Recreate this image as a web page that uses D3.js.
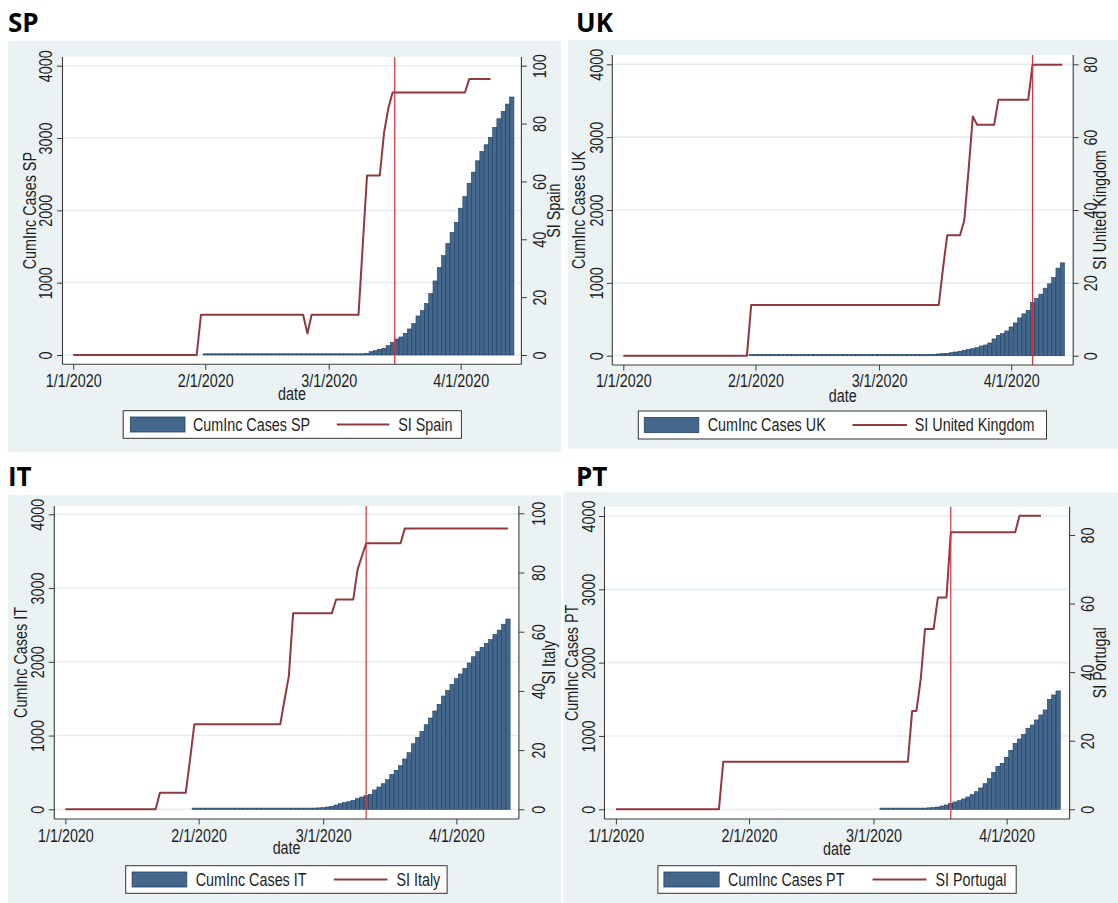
<!DOCTYPE html>
<html><head><meta charset="utf-8">
<script src="https://cdn.jsdelivr.net/npm/d3@7"></script>
<style>
html,body{margin:0;padding:0;background:#fff;}
svg{display:block;}
.lbl{font-family:"Liberation Sans",Arial,sans-serif;font-size:17.5px;fill:#1e1e1e;}
.ptitle{font-family:"Open Sans",sans-serif;font-weight:700;font-size:26px;fill:#000;}
</style></head><body>
<svg id="chart" width="1118" height="903"></svg>
<script>
// ---------------- data ----------------
const xTickDates = ["2020-01-01","2020-02-01","2020-03-01","2020-04-01"];
const leftTicks = [0,1000,2000,3000,4000];
const rightTicks100 = [0,20,40,60,80,100];
const rightTicks80 = [0,20,40,60,80];

// Cumulative incidence (cases), one bar per day from the start date
const spCasesStart = "2020-02-01";
const spCases = [0,0,0,0,0,0,0,0,0,0,0,0,0,0,0,0,0,0,0,0,0,0,0,0,0,0,0,0,0,
  1,1,2,3,4,5,6,7,
  9,23,46,60,78,92,129,175,221,249,300,360,434,540,614,711,849,1024,1209,1375,1541,1693,1836,2030,
  2191,2376,2528,2685,2814,2907,3010,3146,3266,3368,3470,3567];
const ukCasesStart = "2020-01-31";
const ukCases = [0,0,0,0,0,0,0,0,0,0,0,0,0,0,0,0,0,0,0,0,0,0,0,0,0,0,0,0,0,0,0,
  1,1,1,2,2,3,4,5,7,9,11,13,
  20,24,28,33,41,51,60,74,83,96,110,133,147,175,230,280,303,340,395,450,519,574,624,729,
  784,845,927,986,1073,1202,1275];
const itCasesStart = "2020-01-31";
const itCases = [0,0,0,0,0,0,0,0,0,0,0,0,0,0,0,0,0,0,0,0,0,0,
  3,4,5,7,9,11,
  15,19,22,31,40,58,76,90,103,122,144,167,185,203,262,302,347,401,475,529,591,682,768,889,
  976,1057,1147,1238,1333,1424,1536,1613,1695,1771,1835,1912,1984,2069,2137,2197,2250,2300,
  2370,2430,2510,2580];
const ptCasesStart = "2020-03-03";
const ptCases = [0,0,0,0,1,1,2,2,3,4,7,
  20,24,31,45,59,82,100,117,141,168,200,240,291,349,418,505,587,628,709,805,900,959,1023,1105,
  1150,1219,1287,1355,1500,1559,1614];

// Stringency index (vertices of the daily line)
const spSI = [["2020-01-01",0],["2020-01-30",0],["2020-01-31",13.89],["2020-02-24",13.89],["2020-02-25",7.41],
  ["2020-02-26",13.89],["2020-03-08",13.89],["2020-03-09",38],["2020-03-10",62.04],["2020-03-13",62.04],
  ["2020-03-14",76.85],["2020-03-15",85.19],["2020-03-16",90.74],["2020-04-02",90.74],["2020-04-03",95.37],["2020-04-08",95.37]];
const ukSI = [["2020-01-01",0],["2020-01-30",0],["2020-01-31",13.89],["2020-03-15",13.89],["2020-03-16",24],
  ["2020-03-17",33.07],["2020-03-20",33.07],["2020-03-21",37.2],["2020-03-22",51],["2020-03-23",65.7],
  ["2020-03-24",63.4],["2020-03-28",63.4],["2020-03-29",70.3],["2020-04-05",70.3],["2020-04-06",79.9],["2020-04-13",79.9]];
const itSI = [["2020-01-01",0],["2020-01-22",0],["2020-01-23",5.56],["2020-01-29",5.56],["2020-01-30",16.7],
  ["2020-01-31",28.7],["2020-02-20",28.7],["2020-02-21",37],["2020-02-22",45],["2020-02-23",66.2],
  ["2020-03-03",66.2],["2020-03-04",70.9],["2020-03-08",70.9],["2020-03-09",81],["2020-03-10",85.5],
  ["2020-03-11",89.9],["2020-03-19",89.9],["2020-03-20",94.9],["2020-04-13",94.9]];
const ptSI = [["2020-01-01",0],["2020-01-25",0],["2020-01-26",13.89],["2020-03-09",13.89],["2020-03-10",28.7],
  ["2020-03-11",28.7],["2020-03-12",38],["2020-03-13",52.6],["2020-03-15",52.6],["2020-03-16",61.8],
  ["2020-03-18",61.8],["2020-03-19",80.8],["2020-04-03",80.8],["2020-04-04",85.6],["2020-04-09",85.6]];

// Reference dates (vertical lines)
const spEventDate = "2020-03-16T12:00:00Z";
const ukEventDate = "2020-04-06T00:00:00Z";
const itEventDate = "2020-03-11T00:00:00Z";
const ptEventDate = "2020-03-19T00:00:00Z";

const panelNames = ["SP","UK","IT","PT"];
const caseLabels = ["CumInc Cases SP","CumInc Cases UK","CumInc Cases IT","CumInc Cases PT"];
const siLabels = ["SI Spain","SI United Kingdom","SI Italy","SI Portugal"];

// ---------------- layout ----------------
const NX = 0.82; // narrow glyph width factor
const layouts = [
 {bg:[8,41,561,452], title:[8,32], plot:{l:62.5,r:521.4,t:57,b:364.3}, y0:355, yLTop:65.7, yRTop:65.7,
  xA:73.2, xB:460.7, lLab:51.8, lTit:35.7, rLab:546.4, rTit:560.3, xLab:386.7, dateY:400,
  leg:{x0:123.2,x1:461.4,y0:410.7,y1:438.3,sw0:130.4,sw1:185,t1:192.9,l0:336.8,l1:389.3,t2:398.2}},
 {bg:[568,40,1118,449], title:[576,32], plot:{l:612.3,r:1073.2,t:55,b:365}, y0:355.7, yLTop:64.3, yRTop:64.3,
  xA:623.3, xB:1011.2, lLab:602.7, lTit:585, rLab:1097.4, rTit:1106.3, xLab:387.3, dateY:401.5,
  leg:{x0:638.3,x1:1046.5,y0:411,y1:439,sw0:644.3,sw1:698.8,t1:707.7,l0:852.5,l1:907,t2:914.8}},
 {bg:[8,495,561,903], title:[8,486], plot:{l:54.3,r:518.9,t:506,b:819}, y0:809.3, yLTop:514.3, yRTop:513.3,
  xA:65.4, xB:456.4, lLab:44.3, lTit:26.8, rLab:544.6, rTit:555.4, xLab:841.7, dateY:854,
  leg:{x0:125.7,x1:447.1,y0:865.7,y1:893.3,sw0:132.1,sw1:186.8,t1:195.7,l0:333.9,l1:387.5,t2:396.4}},
 {bg:[563.5,492.3,1118,903], title:[576,486], plot:{l:604.5,r:1069.6,t:506.7,b:819}, y0:809.3, yLTop:516, yRTop:535,
  xA:615.9, xB:1006.6, lLab:595.3, lTit:577.8, rLab:1093.8, rTit:1106.3, xLab:841.7, dateY:855,
  leg:{x0:657.9,x1:1016.2,y0:865.7,y1:893.3,sw0:663.9,sw1:719.1,t1:728,l0:872.5,l1:926.5,t2:935.4}}
];

const parseDay = d3.utcParse("%Y-%m-%d");
const dailySeries = (start, vals) => vals.map((v,i)=>({date:d3.utcDay.offset(parseDay(start), i), v}));
const vertexSeries = arr => arr.map(([d,v])=>({date:parseDay(d), v}));

const panels = [
  {cases:dailySeries(spCasesStart, spCases), si:vertexSeries(spSI), event:d3.isoParse(spEventDate), rTicks:rightTicks100},
  {cases:dailySeries(ukCasesStart, ukCases), si:vertexSeries(ukSI), event:d3.isoParse(ukEventDate), rTicks:rightTicks80},
  {cases:dailySeries(itCasesStart, itCases), si:vertexSeries(itSI), event:d3.isoParse(itEventDate), rTicks:rightTicks100},
  {cases:dailySeries(ptCasesStart, ptCases), si:vertexSeries(ptSI), event:d3.isoParse(ptEventDate), rTicks:rightTicks80}
];

const COL = {bg:"#eaf2f3", grid:"#e4edf0", barFill:"#45678c", barStroke:"#1c4167", si:"#923840",
  ev:"#d8323a", axis:"#3c3c3c"};

const svg = d3.select("#chart");

// text placed with a narrow glyph transform
function label(parent, x, y, rot, anchor, str) {
  return parent.append("text").attr("class","lbl").attr("text-anchor",anchor)
    .attr("transform",`translate(${x},${y})${rot?` rotate(${rot})`:""} scale(${NX},1)`).text(str);
}

panels.forEach((p, i) => {
  const L = layouts[i];
  const g = svg.append("g");
  g.append("rect").attr("x",L.bg[0]).attr("y",L.bg[1]).attr("width",L.bg[2]-L.bg[0]).attr("height",L.bg[3]-L.bg[1]).attr("fill",COL.bg);
  svg.append("text").attr("class","ptitle").attr("x",L.title[0]).attr("y",L.title[1]).text(panelNames[i]);

  const P = L.plot;
  g.append("rect").attr("x",P.l).attr("y",P.t).attr("width",P.r-P.l).attr("height",P.b-P.t).attr("fill","#fff");

  const x = d3.scaleUtc().domain([parseDay(xTickDates[0]), parseDay(xTickDates[3])]).range([L.xA, L.xB]);
  const yL = d3.scaleLinear().domain([0, leftTicks[leftTicks.length-1]]).range([L.y0, L.yLTop]);
  const yR = d3.scaleLinear().domain([0, p.rTicks[p.rTicks.length-1]]).range([L.y0, L.yRTop]);

  // grid
  g.append("g").selectAll("line").data(leftTicks).join("line")
    .attr("x1",P.l).attr("x2",P.r).attr("y1",d=>yL(d)).attr("y2",d=>yL(d))
    .attr("stroke",COL.grid).attr("stroke-width",1.6);

  // bars
  const bw = x(d3.utcDay.offset(parseDay(xTickDates[0]),1)) - x(parseDay(xTickDates[0]));
  g.append("g").selectAll("rect").data(p.cases).join("rect")
    .attr("x",d=>x(d.date)-bw/2).attr("width",bw)
    .attr("y",d=>Math.min(yL(d.v), yL(0)-1.2))
    .attr("height",d=>Math.max(yL(0)-yL(d.v),1.2))
    .attr("fill",COL.barFill).attr("stroke",COL.barStroke).attr("stroke-width",0.6);

  // SI line
  g.append("path").datum(p.si)
    .attr("d", d3.line().x(d=>x(d.date)).y(d=>yR(d.v)))
    .attr("fill","none").attr("stroke",COL.si).attr("stroke-width",2).attr("stroke-linejoin","round");

  // event line
  g.append("line").attr("x1",x(p.event)).attr("x2",x(p.event)).attr("y1",P.t).attr("y2",P.b)
    .attr("stroke",COL.ev).attr("stroke-width",1.2);

  // axes
  const ax = g.append("g").attr("transform",`translate(${P.l},0)`)
    .call(d3.axisLeft(yL).tickValues(leftTicks).tickSize(5.5).tickSizeOuter(0).tickFormat(d3.format("d")));
  const axR = g.append("g").attr("transform",`translate(${P.r},0)`)
    .call(d3.axisRight(yR).tickValues(p.rTicks).tickSize(5.5).tickSizeOuter(0).tickFormat(d3.format("d")));
  const axB = g.append("g").attr("transform",`translate(0,${P.b})`)
    .call(d3.axisBottom(x).tickValues(xTickDates.map(parseDay)).tickSize(5.5).tickSizeOuter(0).tickFormat(d3.utcFormat("%-m/%-d/%Y")));
  [ax,axR,axB].forEach(a=>{
    a.select(".domain").remove();
    a.selectAll(".tick line").attr("stroke",COL.axis).attr("stroke-width",1);
    a.selectAll(".tick text").attr("class","lbl").attr("font-family",null).attr("font-size",null).attr("fill",null)
      .attr("x",null).attr("y",null).attr("dy",null).attr("text-anchor","middle");
  });
  ax.selectAll(".tick text").attr("transform",`translate(${L.lLab-P.l},0) rotate(-90) scale(${NX},1)`);
  axR.selectAll(".tick text").attr("transform",`translate(${L.rLab-P.r},0) rotate(-90) scale(${NX},1)`);
  axB.selectAll(".tick text").attr("transform",`translate(0,${L.xLab-P.b}) scale(${NX},1)`);

  // axis lines
  const al = g.append("g").attr("stroke",COL.axis).attr("stroke-width",1.1);
  al.append("line").attr("x1",P.l).attr("x2",P.l).attr("y1",P.t).attr("y2",P.b);
  al.append("line").attr("x1",P.r).attr("x2",P.r).attr("y1",P.t).attr("y2",P.b);
  al.append("line").attr("x1",P.l).attr("x2",P.r).attr("y1",P.b).attr("y2",P.b);

  // titles
  const cy = (P.t+P.b)/2, cx = (P.l+P.r)/2;
  label(g, L.lTit, cy, -90, "middle", caseLabels[i]);
  label(g, L.rTit, cy, -90, "middle", siLabels[i]);
  label(g, cx, L.dateY, 0, "middle", "date");

  // legend
  const G = L.leg, midY = (G.y0+G.y1)/2;
  g.append("rect").attr("x",G.x0).attr("y",G.y0).attr("width",G.x1-G.x0).attr("height",G.y1-G.y0)
    .attr("fill","#fff").attr("stroke","#333").attr("stroke-width",1);
  g.append("rect").attr("x",G.sw0).attr("y",midY-7.5).attr("width",G.sw1-G.sw0).attr("height",15)
    .attr("fill",COL.barFill).attr("stroke",COL.barStroke).attr("stroke-width",0.8);
  label(g, G.t1, midY+6.3, 0, "start", caseLabels[i]);
  g.append("line").attr("x1",G.l0).attr("x2",G.l1).attr("y1",midY).attr("y2",midY)
    .attr("stroke",COL.si).attr("stroke-width",2);
  label(g, G.t2, midY+6.3, 0, "start", siLabels[i]);
});
</script>
</body></html>
